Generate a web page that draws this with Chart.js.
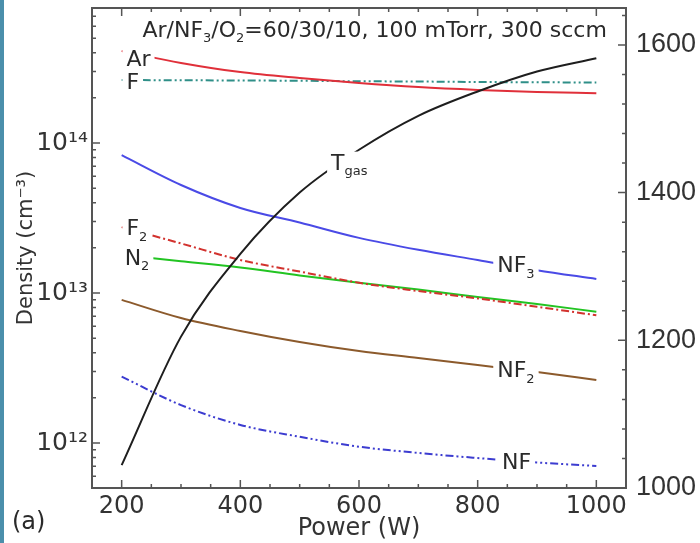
<!DOCTYPE html>
<html>
<head>
<meta charset="utf-8">
<script src="https://cdn.jsdelivr.net/npm/chart.js@4.4.1/dist/chart.umd.min.js"></script>
<style>
  html, body { margin: 0; padding: 0; background: #fff; }
  #wrap { position: relative; width: 700px; height: 543px; }
  #stripe { position: absolute; left: 0; top: 0; width: 4px; height: 543px; background: #4b8fab; }
</style>
</head>
<body>
<div id="wrap">
  <canvas id="densityChart" width="700" height="543"></canvas>
  <div id="stripe"></div>
</div>
<script>
// Power sweep (W)
const power = [200, 300, 400, 500, 600, 700, 800, 900, 1000];

// Species densities (cm^-3)
const densAr  = [4.1e14, 3.42e14, 2.97e14, 2.71e14, 2.51e14, 2.36e14, 2.26e14, 2.19e14, 2.15e14];
const densF   = [2.63e14, 2.62e14, 2.61e14, 2.6e14, 2.58e14, 2.57e14, 2.55e14, 2.54e14, 2.53e14];
const densF2  = [2.75e13, 2.14e13, 1.66e13, 1.39e13, 1.17e13, 1.03e13, 9.2e12, 8.1e12, 7.1e12];
const densN2  = [1.79e13, 1.63e13, 1.48e13, 1.31e13, 1.17e13, 1.055e13, 9.4e12, 8.45e12, 7.5e12];
const densNF3 = [8.3e13, 5.25e13, 3.69e13, 2.95e13, 2.33e13, 1.94e13, 1.66e13, 1.42e13, 1.24e13];
const densNF2 = [9.0e12, 6.81e12, 5.58e12, 4.71e12, 4.1e12, 3.69e12, 3.31e12, 2.97e12, 2.63e12];
const densNF  = [2.77e12, 1.79e12, 1.32e12, 1.1e12, 9.45e11, 8.58e11, 7.94e11, 7.41e11, 7.03e11];

// Gas temperature (K), right axis
const tGas = [1031, 1205, 1317, 1400, 1458, 1504, 1537, 1564, 1582];

// Tick labels
const powerTicks = [200, 400, 600, 800, 1000];
const densTicks = [1e12, 1e13, 1e14];
const tempTicks = [1000, 1200, 1400, 1600];

const SUP = {'0':'⁰','1':'¹','2':'²','3':'³','4':'⁴','5':'⁵','6':'⁶','7':'⁷','8':'⁸','9':'⁹','-':'⁻'};
const sup = s => String(s).split('').map(c => SUP[c] || c).join('');

const pts = vals => vals.map((v, i) => ({ x: power[i], y: v }));

// inline curve labels: [text, subscript, power, value, axis]
const tags = [
  ['Ar', '', 208, 3.69e14, 'y'],
  ['F', '', 208, 2.61e14, 'y'],
  ['F', '2', 208, 2.75e13, 'y'],
  ['N', '2', 205, 1.74e13, 'y'],
  ['NF', '3', 833, 1.56e13, 'y'],
  ['NF', '2', 833, 3.11e12, 'y'],
  ['NF', '', 841, 7.59e11, 'y'],
  ['T', 'gas', 553, 1442, 'y1']
];

const FONT = '"DejaVu Sans"';

function drawRuns(ctx, x, y, runs, size, subSize) {
  // y is the baseline of the main text
  let cx = x;
  runs.forEach(([txt, isSub]) => {
    ctx.font = (isSub ? subSize : size) + 'px ' + FONT;
    ctx.fillText(txt, cx, isSub ? y + size * 0.25 : y);
    cx += ctx.measureText(txt).width;
  });
  return cx - x;
}

const tagPlugin = {
  id: 'curveTags',
  afterDatasetsDraw(chart) {
    const { ctx, scales } = chart;
    ctx.save();
    ctx.textBaseline = 'alphabetic';
    ctx.textAlign = 'left';
    tags.forEach(([txt, sub, p, v, axis]) => {
      const px = scales.x.getPixelForValue(p);
      const py = scales[axis].getPixelForValue(v);
      const size = 22, subSize = 13;
      ctx.font = size + 'px ' + FONT;
      const w1 = ctx.measureText(txt).width;
      ctx.font = subSize + 'px ' + FONT;
      const w2 = sub ? ctx.measureText(sub).width : 0;
      ctx.fillStyle = '#fff';
      ctx.fillRect(px - 4, py - 10, w1 + w2 + 8, sub ? 24 : 21);
      ctx.fillStyle = '#2a2a2a';
      drawRuns(ctx, px, py + 8, [[txt, false], [sub, true]], size, subSize);
    });

    // condition note along the top
    const nx = scales.x.getPixelForValue(235);
    const ny = scales.y.getPixelForValue(5.1e14);
    ctx.fillStyle = '#2a2a2a';
    drawRuns(ctx, nx, ny, [['Ar/NF', false], ['3', true], ['/O', false], ['2', true],
      ['=60/30/10, 100 mTorr, 300 sccm', false]], 22, 13);

    // panel letter
    ctx.font = '24px ' + FONT;
    ctx.fillText('(a)', 12, 529);
    ctx.restore();
  }
};

const framePlugin = {
  id: 'frameTicks',
  afterDraw(chart) {
    const { ctx, chartArea: a, scales } = chart;
    ctx.save();
    ctx.strokeStyle = '#555';
    ctx.lineWidth = 1.5;
    ctx.beginPath();
    for (let p = 200; p <= 1000; p += 50) {
      const px = scales.x.getPixelForValue(p);
      const len = p % 200 === 0 ? 8 : 4;
      ctx.moveTo(px, a.bottom); ctx.lineTo(px, a.bottom - len);
      ctx.moveTo(px, a.top); ctx.lineTo(px, a.top + len);
    }
    for (let d = 11; d <= 14; d++) {
      for (let m = 1; m <= 9; m++) {
        const v = m * Math.pow(10, d);
        if (v < scales.y.min || v > scales.y.max) continue;
        const py = scales.y.getPixelForValue(v);
        ctx.moveTo(a.left, py); ctx.lineTo(a.left + (m === 1 ? 8 : 4), py);
      }
    }
    for (let t = 1000; t <= 1640; t += 40) {
      const py = scales.y1.getPixelForValue(t);
      ctx.moveTo(a.right, py); ctx.lineTo(a.right - (t % 200 === 0 ? 8 : 4), py);
    }
    ctx.stroke();
    ctx.lineWidth = 2;
    ctx.strokeRect(a.left, a.top, a.right - a.left, a.bottom - a.top);
    ctx.restore();
  }
};

const line = (vals, color, dash, axis) => ({
  data: pts(vals),
  borderColor: color,
  borderWidth: 2,
  borderDash: dash || [],
  yAxisID: axis || 'y'
});

// fixed box sizes so the plot frame lands in the same place every time
const fitBox = (w, h) => s => {
  if (w) s.width = w;
  if (h) s.height = h;
  s.paddingTop = s.paddingBottom = s.paddingLeft = s.paddingRight = 0;
};

const ctx = document.getElementById('densityChart').getContext('2d');
new Chart(ctx, {
  type: 'line',
  data: {
    datasets: [
      line(tGas, '#1e1e1e', null, 'y1'),
      line(densAr, '#e0303a'),
      line(densF, '#2f8f88', [8, 3, 2, 3, 2, 3]),
      line(densF2, '#d2322e', [8, 3, 2, 3]),
      line(densN2, '#22c422'),
      line(densNF3, '#4a4ae6'),
      line(densNF2, '#8c5a2c'),
      line(densNF, '#3c3cd0', [8, 3, 2, 3, 2, 3])
    ]
  },
  options: {
    responsive: false,
    animation: false,
    layout: { padding: { top: 8, left: 0, right: 0, bottom: 0 } },
    elements: {
      point: { radius: 0 },
      line: { cubicInterpolationMode: 'monotone', fill: false }
    },
    plugins: { legend: { display: false }, tooltip: { enabled: false } },
    scales: {
      x: {
        type: 'linear', min: 150, max: 1050,
        grid: { display: false, drawTicks: false },
        border: { display: false },
        afterBuildTicks: s => { s.ticks = powerTicks.map(v => ({ value: v })); },
        afterFit: fitBox(0, 55),
        ticks: { color: '#333', padding: 4, maxRotation: 0, font: { family: 'DejaVu Sans', size: 24 }, callback: v => String(v) },
        title: { display: true, text: 'Power (W)', color: '#333', padding: 0, font: { family: 'DejaVu Sans', size: 24 } }
      },
      y: {
        type: 'logarithmic', position: 'left', min: Math.pow(10, 11.7), max: Math.pow(10, 14.9),
        grid: { display: false, drawTicks: false },
        border: { display: false },
        afterBuildTicks: s => { s.ticks = densTicks.map(v => ({ value: v })); },
        afterFit: fitBox(92, 0),
        ticks: {
          color: '#333', padding: 4, font: { family: 'DejaVu Sans', size: 25 },
          callback: v => '10' + sup(Math.round(Math.log10(v)))
        },
        title: { display: true, text: 'Density (cm' + sup('-3') + ')', color: '#333', padding: { top: 14 }, font: { family: 'DejaVu Sans', size: 21 } }
      },
      y1: {
        type: 'linear', position: 'right', min: 1000, max: 1650,
        grid: { display: false, drawTicks: false },
        border: { display: false },
        afterBuildTicks: s => { s.ticks = tempTicks.map(v => ({ value: v })); },
        afterFit: fitBox(74, 0),
        ticks: { color: '#333', padding: 10, font: { family: 'Liberation Sans', size: 27 }, callback: v => String(v) }
      }
    }
  },
  plugins: [tagPlugin, framePlugin]
});
</script>
</body>
</html>
